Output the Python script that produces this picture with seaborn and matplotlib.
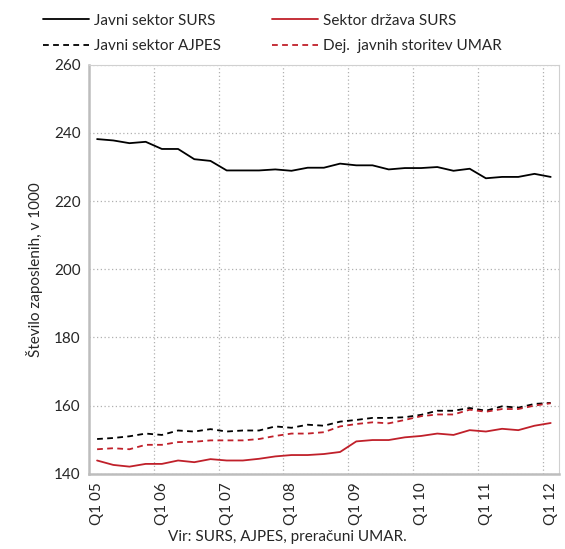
import pandas as pd
import matplotlib.pyplot as plt
import seaborn as sns

quarters = [f"Q{q} {y:02d}" for y in range(5, 13) for q in range(1, 5)][:29]

javni_surs = [238.2, 237.8, 237.0, 237.4, 235.3, 235.3, 232.3, 231.8, 229.0, 229.0,
              229.0, 229.3, 228.9, 229.8, 229.8, 231.0, 230.5, 230.5, 229.3, 229.7,
              229.7, 230.0, 228.9, 229.5, 226.7, 227.1, 227.1, 228.0, 227.1]
javni_ajpes = [150.2, 150.5, 151.0, 151.8, 151.4, 152.7, 152.4, 153.1, 152.4, 152.7,
               152.7, 153.9, 153.5, 154.4, 154.1, 155.3, 155.8, 156.4, 156.4, 156.6,
               157.3, 158.5, 158.5, 159.3, 158.5, 159.8, 159.4, 160.5, 160.8]
drzava_surs = [143.9, 142.6, 142.1, 142.9, 142.9, 143.9, 143.4, 144.3, 143.9, 143.9,
               144.4, 145.1, 145.5, 145.5, 145.8, 146.4, 149.5, 149.9, 149.9, 150.7,
               151.1, 151.8, 151.4, 152.8, 152.4, 153.2, 152.8, 154.1, 154.9]
storitve_umar = [147.2, 147.5, 147.2, 148.5, 148.5, 149.3, 149.4, 149.8, 149.8, 149.8,
                 150.2, 151.1, 151.8, 151.8, 152.2, 153.9, 154.6, 155.1, 154.8, 155.8,
                 156.9, 157.4, 157.4, 158.8, 158.2, 159.0, 159.0, 160.0, 160.7]

sns.set_style("white")
plt.rcParams["font.family"] = ["Lato", "DejaVu Sans"]

df = pd.DataFrame({
    "x": range(len(quarters)),
    "Javni sektor SURS": javni_surs,
    "Javni sektor AJPES": javni_ajpes,
    "Sektor država SURS": drzava_surs,
    "Dej.  javnih storitev UMAR": storitve_umar,
})

red = "#C0202A"
styles = {
    "Javni sektor SURS": ("black", "solid"),
    "Javni sektor AJPES": ("black", "dashed"),
    "Sektor država SURS": (red, "solid"),
    "Dej.  javnih storitev UMAR": (red, "dashed"),
}

fig = plt.figure(figsize=(5.65, 5.49), dpi=100)
ax = fig.add_axes([0.1575, 0.137, 0.8315, 0.745])

handles = []
for name, (color, ls) in styles.items():
    sns.lineplot(data=df, x="x", y=name, ax=ax, color=color, linewidth=1.3, legend=False)
    line = ax.lines[-1]
    if ls == "dashed":
        line.set_dashes((3.2, 2.4))
    line.set_label(name)
    handles.append(line)

ax.set_xlim(-0.5, len(quarters) - 0.5)
ax.set_ylim(140, 260)
ax.set_yticks(range(140, 261, 20))
ax.set_xticks(range(0, len(quarters), 4))
ax.set_xticklabels([quarters[i] for i in range(0, len(quarters), 4)], rotation=90)
ax.set_xticks([i - 0.5 for i in range(4, len(quarters), 4)], minor=True)
ax.tick_params(axis="both", length=0, labelsize=11, pad=6)
ax.tick_params(axis="x", which="minor", length=0)

ax.grid(False)
ax.yaxis.grid(True, color="#B0B0B0", linestyle=(0, (1, 2)), linewidth=0.9)
ax.xaxis.grid(True, which="minor", color="#B0B0B0", linestyle=(0, (1, 2)), linewidth=0.9)

for side in ["top", "right"]:
    ax.spines[side].set_color("#D0D0D0")
    ax.spines[side].set_linewidth(0.8)
for side in ["left", "bottom"]:
    ax.spines[side].set_color("#BDBDBD")
    ax.spines[side].set_linewidth(1.8)

ax.set_xlabel("")
ax.set_ylabel("Število zaposlenih, v 1000", fontsize=11, labelpad=8)
fig.text(287 / 565, 12 / 549, "Vir: SURS, AJPES, preračuni UMAR.", ha="center",
         va="center", fontsize=11)

fig.legend(handles=handles, labels=list(styles.keys()), ncol=2, loc="upper left",
           bbox_to_anchor=(0.052, 1.0), frameon=False, fontsize=11,
           handlelength=3.0, handletextpad=0.3, columnspacing=3.4, labelspacing=0.75)

fig.savefig("out.png", dpi=100)
